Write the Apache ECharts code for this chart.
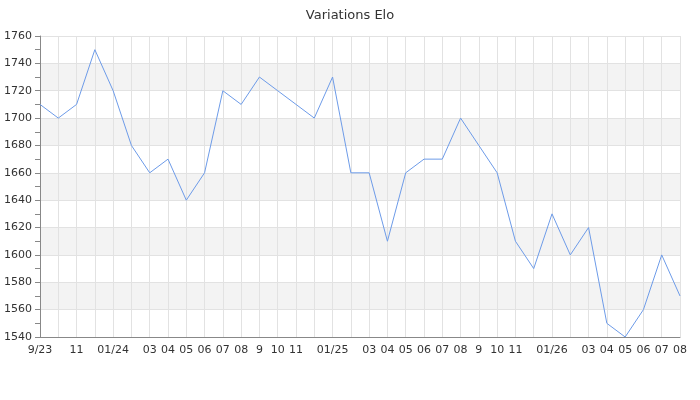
<!DOCTYPE html>
<html>
<head>
<meta charset="utf-8">
<script src="https://cdn.jsdelivr.net/npm/echarts@6/dist/echarts.min.js"></script>
<style>html,body{margin:0;padding:0;background:#fff}#c{width:700px;height:400px}</style>
</head>
<body>
<div id="c"></div>
<script>
var categories = ['9/23','10','11','12','01/24','02','03','04','05','06','07','08','9','10','11','12',
  '01/25','02','03','04','05','06','07','08','9','10','11','12','01/26','02','03','04','05','06','07','08'];
var hiddenLabels = [1,3,5,15,17,27,29];
var elo = [1710,1700,1710,1750,1720,1680,1660,1670,1640,1660,1720,1710,1730,1720,1710,1700,
  1730,1660,1660,1610,1660,1670,1670,1700,1680,1660,1610,1590,1630,1600,1620,1550,1540,1560,1600,1570];
var yMin = 1540, yMax = 1760, yStep = 20;

var chart = echarts.init(document.getElementById('c'));
chart.setOption({
  animation: false,
  title: {
    text: 'Variations Elo', left: 'center', top: 4,
    textStyle: { fontFamily: 'DejaVu Sans', fontSize: 13, fontWeight: 'normal', color: '#333' }
  },
  grid: { left: 40, right: 20, top: 36, bottom: 63, containLabel: false },
  xAxis: {
    type: 'category', data: categories, boundaryGap: false,
    axisLine: { lineStyle: { color: '#888' } },
    axisTick: { show: false },
    axisLabel: {
      interval: function (i) { return hiddenLabels.indexOf(i) < 0; },
      fontFamily: 'DejaVu Sans', fontSize: 11, color: '#333', margin: 8
    },
    splitLine: { show: true, interval: 0, lineStyle: { color: '#e2e2e2' } }
  },
  yAxis: {
    type: 'value', min: yMin, max: yMax, interval: yStep,
    axisLine: { show: true, lineStyle: { color: '#888' } },
    axisTick: { show: true, length: 5, lineStyle: { color: '#888' } },
    minorTick: { show: true, splitNumber: 2, length: 5, lineStyle: { color: '#888' } },
    axisLabel: {
      formatter: function (v) { return String(v); },
      fontFamily: 'DejaVu Sans', fontSize: 11, color: '#333', margin: 8
    },
    splitLine: { show: true, lineStyle: { color: '#e2e2e2' } },
    splitArea: { show: true, areaStyle: { color: ['#ffffff', '#f3f3f3'] } }
  },
  series: [{
    type: 'line', data: elo, showSymbol: false, symbol: 'none',
    lineStyle: { color: '#6d9be8', width: 1 }
  }]
});
</script>
</body>
</html>
